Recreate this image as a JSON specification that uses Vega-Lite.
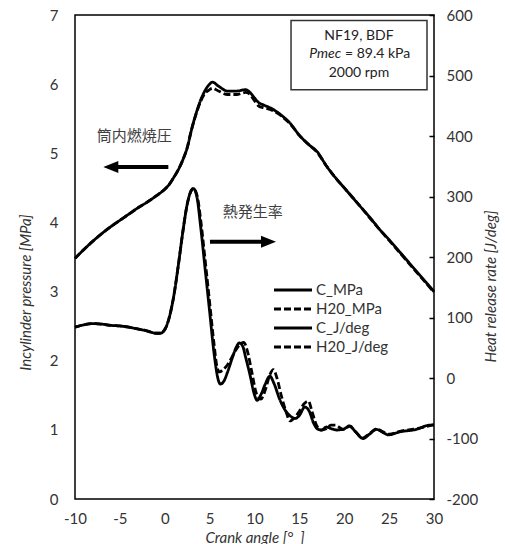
{
  "$schema": "https://vega.github.io/schema/vega-lite/v6.json",
  "autosize": "none",
  "width": 359,
  "height": 484,
  "padding": {"left": 75, "top": 15, "right": 71, "bottom": 45},
  "background": "white",
  "config": {
    "font": "Lato",
    "view": {"stroke": "black", "strokeWidth": 1.5},
    "axis": {"labelFont": "Lato", "labelFontSize": 15, "labelColor": "#333", "labelFlush": false, "labelExpr": "datum.value + ''", "titleFont": "Lato", "titleFontSize": 15, "titleFontStyle": "italic", "titleFontWeight": "normal", "titleColor": "#333", "domain": false}
  },
  "datasets": {
    "pres": [
      {"s": "C_MPa", "x": -10, "v": 3.48}, {"s": "C_MPa", "x": -9, "v": 3.61}, {"s": "C_MPa", "x": -8, "v": 3.73}, {"s": "C_MPa", "x": -7, "v": 3.84}, {"s": "C_MPa", "x": -6, "v": 3.94}, {"s": "C_MPa", "x": -5, "v": 4.03}, {"s": "C_MPa", "x": -4, "v": 4.12}, {"s": "C_MPa", "x": -3, "v": 4.21}, {"s": "C_MPa", "x": -2, "v": 4.29}, {"s": "C_MPa", "x": -1, "v": 4.38}, {"s": "C_MPa", "x": 0, "v": 4.48}, {"s": "C_MPa", "x": 0.5, "v": 4.55}, {"s": "C_MPa", "x": 1, "v": 4.65}, {"s": "C_MPa", "x": 1.5, "v": 4.76}, {"s": "C_MPa", "x": 2, "v": 4.9}, {"s": "C_MPa", "x": 2.5, "v": 5.08}, {"s": "C_MPa", "x": 3, "v": 5.35}, {"s": "C_MPa", "x": 3.5, "v": 5.58}, {"s": "C_MPa", "x": 4, "v": 5.77}, {"s": "C_MPa", "x": 4.5, "v": 5.91}, {"s": "C_MPa", "x": 5, "v": 6.0}, {"s": "C_MPa", "x": 5.3, "v": 6.03}, {"s": "C_MPa", "x": 6, "v": 5.97}, {"s": "C_MPa", "x": 7, "v": 5.9}, {"s": "C_MPa", "x": 8, "v": 5.9}, {"s": "C_MPa", "x": 9, "v": 5.92}, {"s": "C_MPa", "x": 9.5, "v": 5.88}, {"s": "C_MPa", "x": 10, "v": 5.8}, {"s": "C_MPa", "x": 10.5, "v": 5.73}, {"s": "C_MPa", "x": 11, "v": 5.7}, {"s": "C_MPa", "x": 12, "v": 5.64}, {"s": "C_MPa", "x": 13, "v": 5.55}, {"s": "C_MPa", "x": 14, "v": 5.43}, {"s": "C_MPa", "x": 15, "v": 5.26}, {"s": "C_MPa", "x": 16, "v": 5.13}, {"s": "C_MPa", "x": 17, "v": 5.02}, {"s": "C_MPa", "x": 18, "v": 4.82}, {"s": "C_MPa", "x": 19, "v": 4.65}, {"s": "C_MPa", "x": 20, "v": 4.5}, {"s": "C_MPa", "x": 21, "v": 4.35}, {"s": "C_MPa", "x": 22, "v": 4.2}, {"s": "C_MPa", "x": 23, "v": 4.05}, {"s": "C_MPa", "x": 24, "v": 3.89}, {"s": "C_MPa", "x": 25, "v": 3.75}, {"s": "C_MPa", "x": 26, "v": 3.6}, {"s": "C_MPa", "x": 27, "v": 3.45}, {"s": "C_MPa", "x": 28, "v": 3.3}, {"s": "C_MPa", "x": 29, "v": 3.15}, {"s": "C_MPa", "x": 30, "v": 3.0},
      {"s": "H20_MPa", "x": -10, "v": 3.48}, {"s": "H20_MPa", "x": -9, "v": 3.61}, {"s": "H20_MPa", "x": -8, "v": 3.73}, {"s": "H20_MPa", "x": -7, "v": 3.84}, {"s": "H20_MPa", "x": -6, "v": 3.94}, {"s": "H20_MPa", "x": -5, "v": 4.03}, {"s": "H20_MPa", "x": -4, "v": 4.12}, {"s": "H20_MPa", "x": -3, "v": 4.21}, {"s": "H20_MPa", "x": -2, "v": 4.29}, {"s": "H20_MPa", "x": -1, "v": 4.38}, {"s": "H20_MPa", "x": 0, "v": 4.48}, {"s": "H20_MPa", "x": 0.5, "v": 4.55}, {"s": "H20_MPa", "x": 1, "v": 4.65}, {"s": "H20_MPa", "x": 1.5, "v": 4.76}, {"s": "H20_MPa", "x": 2, "v": 4.9}, {"s": "H20_MPa", "x": 2.5, "v": 5.08}, {"s": "H20_MPa", "x": 3, "v": 5.35}, {"s": "H20_MPa", "x": 3.5, "v": 5.57}, {"s": "H20_MPa", "x": 4, "v": 5.75}, {"s": "H20_MPa", "x": 4.5, "v": 5.87}, {"s": "H20_MPa", "x": 5, "v": 5.92}, {"s": "H20_MPa", "x": 5.3, "v": 5.94}, {"s": "H20_MPa", "x": 6, "v": 5.9}, {"s": "H20_MPa", "x": 7, "v": 5.85}, {"s": "H20_MPa", "x": 8, "v": 5.85}, {"s": "H20_MPa", "x": 9, "v": 5.88}, {"s": "H20_MPa", "x": 9.5, "v": 5.85}, {"s": "H20_MPa", "x": 10, "v": 5.76}, {"s": "H20_MPa", "x": 10.5, "v": 5.68}, {"s": "H20_MPa", "x": 11, "v": 5.66}, {"s": "H20_MPa", "x": 12, "v": 5.62}, {"s": "H20_MPa", "x": 13, "v": 5.54}, {"s": "H20_MPa", "x": 14, "v": 5.42}, {"s": "H20_MPa", "x": 15, "v": 5.26}, {"s": "H20_MPa", "x": 16, "v": 5.13}, {"s": "H20_MPa", "x": 17, "v": 5.01}, {"s": "H20_MPa", "x": 18, "v": 4.82}, {"s": "H20_MPa", "x": 19, "v": 4.65}, {"s": "H20_MPa", "x": 20, "v": 4.5}, {"s": "H20_MPa", "x": 21, "v": 4.35}, {"s": "H20_MPa", "x": 22, "v": 4.2}, {"s": "H20_MPa", "x": 23, "v": 4.04}, {"s": "H20_MPa", "x": 24, "v": 3.89}, {"s": "H20_MPa", "x": 25, "v": 3.74}, {"s": "H20_MPa", "x": 26, "v": 3.59}, {"s": "H20_MPa", "x": 27, "v": 3.44}, {"s": "H20_MPa", "x": 28, "v": 3.29}, {"s": "H20_MPa", "x": 29, "v": 3.14}, {"s": "H20_MPa", "x": 30, "v": 2.99}
    ],
    "hrr": [
      {"s": "C_J/deg", "x": -10, "v": 84}, {"s": "C_J/deg", "x": -9, "v": 88}, {"s": "C_J/deg", "x": -8, "v": 90}, {"s": "C_J/deg", "x": -7, "v": 89}, {"s": "C_J/deg", "x": -6, "v": 87}, {"s": "C_J/deg", "x": -5, "v": 86}, {"s": "C_J/deg", "x": -4, "v": 84}, {"s": "C_J/deg", "x": -3, "v": 81}, {"s": "C_J/deg", "x": -2, "v": 78}, {"s": "C_J/deg", "x": -1, "v": 74}, {"s": "C_J/deg", "x": -0.5, "v": 74}, {"s": "C_J/deg", "x": 0, "v": 80}, {"s": "C_J/deg", "x": 0.5, "v": 100}, {"s": "C_J/deg", "x": 1, "v": 135}, {"s": "C_J/deg", "x": 1.5, "v": 185}, {"s": "C_J/deg", "x": 2, "v": 240}, {"s": "C_J/deg", "x": 2.5, "v": 287}, {"s": "C_J/deg", "x": 3, "v": 311}, {"s": "C_J/deg", "x": 3.2, "v": 313}, {"s": "C_J/deg", "x": 3.6, "v": 298}, {"s": "C_J/deg", "x": 4, "v": 250}, {"s": "C_J/deg", "x": 4.5, "v": 180}, {"s": "C_J/deg", "x": 5, "v": 110}, {"s": "C_J/deg", "x": 5.5, "v": 40}, {"s": "C_J/deg", "x": 6, "v": -5}, {"s": "C_J/deg", "x": 6.2, "v": -10}, {"s": "C_J/deg", "x": 6.6, "v": -5}, {"s": "C_J/deg", "x": 7, "v": 10}, {"s": "C_J/deg", "x": 7.5, "v": 32}, {"s": "C_J/deg", "x": 8, "v": 52}, {"s": "C_J/deg", "x": 8.3, "v": 58}, {"s": "C_J/deg", "x": 8.7, "v": 52}, {"s": "C_J/deg", "x": 9, "v": 35}, {"s": "C_J/deg", "x": 9.5, "v": 5}, {"s": "C_J/deg", "x": 10, "v": -28}, {"s": "C_J/deg", "x": 10.3, "v": -37}, {"s": "C_J/deg", "x": 10.7, "v": -28}, {"s": "C_J/deg", "x": 11.2, "v": -10}, {"s": "C_J/deg", "x": 11.7, "v": 3}, {"s": "C_J/deg", "x": 12.2, "v": -10}, {"s": "C_J/deg", "x": 12.8, "v": -35}, {"s": "C_J/deg", "x": 13.5, "v": -55}, {"s": "C_J/deg", "x": 14, "v": -63}, {"s": "C_J/deg", "x": 14.5, "v": -67}, {"s": "C_J/deg", "x": 15, "v": -62}, {"s": "C_J/deg", "x": 15.6, "v": -48}, {"s": "C_J/deg", "x": 16.1, "v": -55}, {"s": "C_J/deg", "x": 16.6, "v": -75}, {"s": "C_J/deg", "x": 17.1, "v": -85}, {"s": "C_J/deg", "x": 17.5, "v": -86}, {"s": "C_J/deg", "x": 18, "v": -81}, {"s": "C_J/deg", "x": 18.6, "v": -84}, {"s": "C_J/deg", "x": 19.2, "v": -86}, {"s": "C_J/deg", "x": 20, "v": -84}, {"s": "C_J/deg", "x": 20.6, "v": -79}, {"s": "C_J/deg", "x": 21.2, "v": -88}, {"s": "C_J/deg", "x": 22.1, "v": -100}, {"s": "C_J/deg", "x": 22.8, "v": -93}, {"s": "C_J/deg", "x": 23.6, "v": -85}, {"s": "C_J/deg", "x": 24.3, "v": -90}, {"s": "C_J/deg", "x": 24.9, "v": -94}, {"s": "C_J/deg", "x": 26.2, "v": -89}, {"s": "C_J/deg", "x": 28, "v": -85}, {"s": "C_J/deg", "x": 29.5, "v": -78}, {"s": "C_J/deg", "x": 30, "v": -78},
      {"s": "H20_J/deg", "x": -10, "v": 84}, {"s": "H20_J/deg", "x": -9, "v": 88}, {"s": "H20_J/deg", "x": -8, "v": 90}, {"s": "H20_J/deg", "x": -7, "v": 89}, {"s": "H20_J/deg", "x": -6, "v": 87}, {"s": "H20_J/deg", "x": -5, "v": 86}, {"s": "H20_J/deg", "x": -4, "v": 84}, {"s": "H20_J/deg", "x": -3, "v": 81}, {"s": "H20_J/deg", "x": -2, "v": 78}, {"s": "H20_J/deg", "x": -1, "v": 74}, {"s": "H20_J/deg", "x": -0.5, "v": 74}, {"s": "H20_J/deg", "x": 0, "v": 80}, {"s": "H20_J/deg", "x": 0.5, "v": 100}, {"s": "H20_J/deg", "x": 1, "v": 135}, {"s": "H20_J/deg", "x": 1.5, "v": 185}, {"s": "H20_J/deg", "x": 2, "v": 240}, {"s": "H20_J/deg", "x": 2.5, "v": 287}, {"s": "H20_J/deg", "x": 3, "v": 311}, {"s": "H20_J/deg", "x": 3.2, "v": 313}, {"s": "H20_J/deg", "x": 3.6, "v": 302}, {"s": "H20_J/deg", "x": 4, "v": 262}, {"s": "H20_J/deg", "x": 4.5, "v": 195}, {"s": "H20_J/deg", "x": 5, "v": 125}, {"s": "H20_J/deg", "x": 5.5, "v": 55}, {"s": "H20_J/deg", "x": 5.8, "v": 20}, {"s": "H20_J/deg", "x": 6.1, "v": 10}, {"s": "H20_J/deg", "x": 6.5, "v": 14}, {"s": "H20_J/deg", "x": 7, "v": 22}, {"s": "H20_J/deg", "x": 7.5, "v": 35}, {"s": "H20_J/deg", "x": 8, "v": 48}, {"s": "H20_J/deg", "x": 8.5, "v": 57}, {"s": "H20_J/deg", "x": 8.8, "v": 59}, {"s": "H20_J/deg", "x": 9.2, "v": 45}, {"s": "H20_J/deg", "x": 9.7, "v": 10}, {"s": "H20_J/deg", "x": 10.2, "v": -25}, {"s": "H20_J/deg", "x": 10.7, "v": -35}, {"s": "H20_J/deg", "x": 11.2, "v": -20}, {"s": "H20_J/deg", "x": 11.7, "v": 5}, {"s": "H20_J/deg", "x": 12.1, "v": 14}, {"s": "H20_J/deg", "x": 12.5, "v": 0}, {"s": "H20_J/deg", "x": 13, "v": -30}, {"s": "H20_J/deg", "x": 13.5, "v": -55}, {"s": "H20_J/deg", "x": 13.95, "v": -71}, {"s": "H20_J/deg", "x": 14.5, "v": -65}, {"s": "H20_J/deg", "x": 15, "v": -55}, {"s": "H20_J/deg", "x": 15.5, "v": -43}, {"s": "H20_J/deg", "x": 16, "v": -38}, {"s": "H20_J/deg", "x": 16.4, "v": -55}, {"s": "H20_J/deg", "x": 16.9, "v": -78}, {"s": "H20_J/deg", "x": 17.4, "v": -86}, {"s": "H20_J/deg", "x": 18, "v": -84}, {"s": "H20_J/deg", "x": 18.5, "v": -78}, {"s": "H20_J/deg", "x": 19, "v": -78}, {"s": "H20_J/deg", "x": 19.9, "v": -85}, {"s": "H20_J/deg", "x": 20.6, "v": -80}, {"s": "H20_J/deg", "x": 21.2, "v": -88}, {"s": "H20_J/deg", "x": 22.1, "v": -99}, {"s": "H20_J/deg", "x": 22.8, "v": -92}, {"s": "H20_J/deg", "x": 23.6, "v": -84}, {"s": "H20_J/deg", "x": 24.3, "v": -89}, {"s": "H20_J/deg", "x": 25, "v": -93}, {"s": "H20_J/deg", "x": 26.2, "v": -88}, {"s": "H20_J/deg", "x": 28, "v": -84}, {"s": "H20_J/deg", "x": 30, "v": -77}
    ]
  },
  "resolve": {"scale": {"y": "independent"}, "axis": {"y": "independent"}},
  "layer": [
    {
      "layer": [
        {
          "data": {"values": [{}]},
          "mark": {"type": "rect", "fill": "white"},
          "encoding": {"x": {"datum": -9.0, "type": "quantitative"}, "x2": {"datum": 2.3}, "y": {"datum": 5.48, "type": "quantitative"}, "y2": {"datum": 4.93}}
        },
        {
          "data": {"values": [{}]},
          "mark": {"type": "rect", "fill": "white"},
          "encoding": {"x": {"datum": -7.44, "type": "quantitative"}, "x2": {"datum": 0.81}, "y": {"datum": 4.89, "type": "quantitative"}, "y2": {"datum": 4.7}}
        },
        {
          "data": {"values": [{}]},
          "mark": {"type": "rect", "fill": "white"},
          "encoding": {"x": {"datum": 5.04, "type": "quantitative"}, "x2": {"datum": 15.12}, "y": {"datum": 4.43, "type": "quantitative"}, "y2": {"datum": 3.9}}
        },
        {
          "data": {"values": [{}]},
          "mark": {"type": "rect", "fill": "white"},
          "encoding": {"x": {"datum": 4.6, "type": "quantitative"}, "x2": {"datum": 12.84}, "y": {"datum": 3.8, "type": "quantitative"}, "y2": {"datum": 3.63}}
        },
        {
          "data": {"name": "pres"},
          "mark": {"type": "line", "color": "black", "interpolate": "monotone"},
          "encoding": {
            "x": {"field": "x", "type": "quantitative", "scale": {"domain": [-10, 30], "nice": false}, "axis": {"values": [-10, -5, 0, 5, 10, 15, 20, 25, 30], "ticks": false, "labelPadding": 12, "gridColor": "#bbbbbb", "gridDash": [2, 2], "gridWidth": 1, "title": "Crank angle [°\u00a0\u00a0]", "titleY": 38, "titleBaseline": "middle", "titlePadding": 0}},
            "y": {"field": "v", "type": "quantitative", "scale": {"domain": [0, 7], "nice": false}, "axis": {"orient": "left", "values": [0, 1, 2, 3, 4, 5, 6, 7], "ticks": false, "labelPadding": 17, "gridColor": "#bbbbbb", "gridDash": [2, 2], "gridWidth": 1, "title": "Incylinder pressure [MPa]", "titleAngle": 270, "titleX": -50, "titleY": 277, "titleAlign": "center", "titleBaseline": "middle"}},
            "strokeDash": {"field": "s", "type": "nominal", "title": null, "scale": {"domain": ["C_MPa", "H20_MPa", "C_J/deg", "H20_J/deg"], "range": [[1, 0], [7, 3], [1, 0], [7, 3]]}, "legend": {"orient": "none", "legendX": 205, "legendY": 262, "padding": 2, "fillColor": "white", "symbolType": "M-2,0H2", "symbolSize": 361, "symbolStrokeColor": "black", "labelFont": "Lato", "labelFontSize": 15, "labelColor": "#333", "labelOffset": 12, "rowPadding": 0}},
            "strokeWidth": {"field": "s", "type": "nominal", "title": null, "scale": {"domain": ["C_MPa", "H20_MPa", "C_J/deg", "H20_J/deg"], "range": [2.8, 2.8, 2.2, 2.8]}}
          }
        },
        {
          "data": {"values": [{}]},
          "mark": {"type": "rule", "color": "black", "strokeWidth": 4},
          "encoding": {"x": {"datum": -5.54, "type": "quantitative"}, "x2": {"datum": 0.4}, "y": {"datum": 4.8, "type": "quantitative"}}
        },
        {
          "data": {"values": [{}]},
          "mark": {"type": "point", "shape": "M-1,0L1,-0.8L1,0.8Z", "filled": true, "color": "black", "opacity": 1, "size": 225},
          "encoding": {"x": {"datum": -6.01, "type": "quantitative"}, "y": {"datum": 4.8, "type": "quantitative"}}
        },
        {
          "data": {"values": [{}]},
          "mark": {"type": "rule", "color": "black", "strokeWidth": 4},
          "encoding": {"x": {"datum": 5.04, "type": "quantitative"}, "x2": {"datum": 10.9}, "y": {"datum": 3.72, "type": "quantitative"}}
        },
        {
          "data": {"values": [{}]},
          "mark": {"type": "point", "shape": "M1,0L-1,-0.8L-1,0.8Z", "filled": true, "color": "black", "opacity": 1, "size": 225},
          "encoding": {"x": {"datum": 11.56, "type": "quantitative"}, "y": {"datum": 3.72, "type": "quantitative"}}
        },
        {
          "data": {"values": [{"t": "筒内燃焼圧", "x": -3.4, "y": 5.25}, {"t": "熱発生率", "x": 9.8, "y": 4.15}]},
          "mark": {"type": "text", "font": "Noto Sans CJK JP", "fontSize": 15, "color": "#404040", "align": "center", "baseline": "middle"},
          "encoding": {"x": {"field": "x", "type": "quantitative"}, "y": {"field": "y", "type": "quantitative"}, "text": {"field": "t"}}
        },
        {
          "data": {"values": [{}]},
          "mark": {"type": "rect", "fill": "white", "stroke": "#333", "strokeWidth": 1.5},
          "encoding": {"x": {"datum": 14.07, "type": "quantitative"}, "x2": {"datum": 29.22}, "y": {"datum": 6.92, "type": "quantitative"}, "y2": {"datum": 5.92}}
        },
        {
          "data": {"values": [{"t": "NF19, BDF", "x": 21.64, "y": 6.69}, {"t": "2000 rpm", "x": 21.64, "y": 6.16}]},
          "mark": {"type": "text", "font": "Lato", "fontSize": 14, "color": "#222", "align": "center", "baseline": "middle"},
          "encoding": {"x": {"field": "x", "type": "quantitative"}, "y": {"field": "y", "type": "quantitative"}, "text": {"field": "t"}}
        },
        {
          "data": {"values": [{"t": "Pmec", "x": 19.64, "y": 6.43}]},
          "mark": {"type": "text", "font": "Lato", "fontSize": 14, "fontStyle": "italic", "color": "#222", "align": "right", "baseline": "middle"},
          "encoding": {"x": {"field": "x", "type": "quantitative"}, "y": {"field": "y", "type": "quantitative"}, "text": {"field": "t"}}
        },
        {
          "data": {"values": [{"t": "= 89.4 kPa", "x": 20.08, "y": 6.43}]},
          "mark": {"type": "text", "font": "Lato", "fontSize": 14, "color": "#222", "align": "left", "baseline": "middle"},
          "encoding": {"x": {"field": "x", "type": "quantitative"}, "y": {"field": "y", "type": "quantitative"}, "text": {"field": "t"}}
        }
      ]
    },
    {
      "data": {"name": "hrr"},
      "mark": {"type": "line", "color": "black", "interpolate": "monotone"},
      "encoding": {
        "x": {"field": "x", "type": "quantitative"},
        "y": {"field": "v", "type": "quantitative", "scale": {"domain": [-200, 600], "nice": false}, "axis": {"orient": "right", "values": [-200, -100, 0, 100, 200, 300, 400, 500, 600], "grid": false, "ticks": true, "tickSize": -5, "tickColor": "black", "tickWidth": 1.5, "labelPadding": 17, "title": "Heat release rate [J/deg]", "titleAngle": 270, "titleX": 56, "titleY": 271, "titleAlign": "center", "titleBaseline": "middle"}},
        "strokeDash": {"field": "s", "type": "nominal", "title": null},
        "strokeWidth": {"field": "s", "type": "nominal", "title": null}
      }
    }
  ]
}
